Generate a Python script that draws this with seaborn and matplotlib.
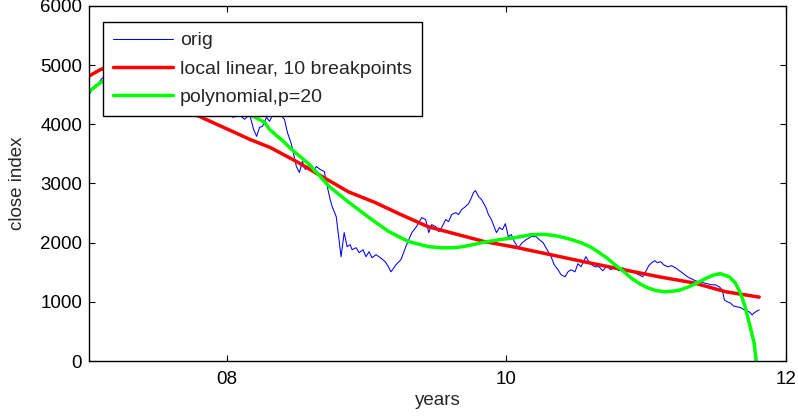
import numpy as np
import pandas as pd
import matplotlib
matplotlib.use("Agg")
import matplotlib.pyplot as plt
import seaborn as sns

# ---- data ----
orig_x = [7.018, 7.039, 7.060, 7.082, 7.103, 7.13, 7.17, 7.22, 7.27, 7.32, 7.37, 7.42, 7.47,
          7.52, 7.57, 7.62, 7.67, 7.72, 7.77, 7.82, 7.87, 7.92, 7.97, 8.01,
          8.043, 8.093, 8.128, 8.164, 8.192, 8.214, 8.235, 8.256, 8.285, 8.306, 8.342, 8.377,
          8.413, 8.434, 8.463, 8.484, 8.498, 8.520, 8.541, 8.562, 8.591, 8.619, 8.641, 8.669,
          8.698, 8.719, 8.740, 8.754, 8.783, 8.797, 8.818, 8.840, 8.861, 8.883, 8.897, 8.925,
          8.947, 8.975, 8.996, 9.018, 9.039, 9.068, 9.089, 9.117, 9.139, 9.160, 9.174, 9.196,
          9.210, 9.231, 9.246, 9.267, 9.281, 9.302, 9.324, 9.352, 9.374, 9.395, 9.423, 9.445,
          9.466, 9.495, 9.516, 9.537, 9.566, 9.587, 9.609, 9.637, 9.658, 9.680, 9.708, 9.730,
          9.744, 9.765, 9.779, 9.801, 9.822, 9.851, 9.872, 9.893, 9.915, 9.929, 9.950, 9.972,
          9.993, 10.014, 10.036, 10.057, 10.085, 10.114, 10.142, 10.178, 10.213, 10.235, 10.263,
          10.292, 10.320, 10.342, 10.370, 10.391, 10.420, 10.441, 10.463, 10.491, 10.512, 10.534,
          10.555, 10.569, 10.598, 10.633, 10.662, 10.690, 10.719, 10.747, 10.776, 10.804, 10.833,
          10.861, 10.890, 10.918, 10.947, 10.975, 10.996, 11.018, 11.039, 11.060, 11.082, 11.103,
          11.125, 11.153, 11.181, 11.210, 11.238, 11.267, 11.295, 11.324, 11.352, 11.381, 11.409,
          11.438, 11.466, 11.495, 11.523, 11.544, 11.559, 11.580, 11.601, 11.623, 11.651, 11.680,
          11.701, 11.722, 11.737, 11.758, 11.772, 11.794, 11.808]
orig_y = [4508, 4593, 4661, 4695, 4763, 4820, 4950, 5050, 4980, 5150, 5300, 5200, 5400,
          5250, 5100, 5200, 4950, 4700, 4800, 4550, 4400, 4500, 4350, 4300,
          4119, 4153, 4085, 4170, 3915, 3797, 3949, 3966, 4119, 4051, 4220, 4170,
          4085, 3864, 3661, 3441, 3288, 3186, 3373, 3237, 3322, 3203, 3288, 3237,
          3203, 2949, 2729, 2610, 2441, 2170, 1763, 2170, 1932, 1966, 1881, 1915,
          1831, 1881, 1763, 1847, 1746, 1797, 1763, 1712, 1661, 1576, 1508, 1576,
          1627, 1678, 1712, 1847, 1932, 2051, 2170, 2254, 2339, 2424, 2390, 2170,
          2305, 2271, 2186, 2254, 2390, 2356, 2475, 2508, 2475, 2559, 2610, 2661,
          2729, 2847, 2881, 2780, 2729, 2610, 2475, 2390, 2254, 2170, 2254, 2220,
          2322, 2102, 2136, 2017, 1915, 2000, 2051, 2102, 2102, 2051, 2000,
          1881, 1763, 1627, 1542, 1458, 1424, 1508, 1542, 1508, 1644, 1593,
          1695, 1763, 1644, 1593, 1593, 1525, 1610, 1542, 1593, 1525, 1576,
          1508, 1525, 1491, 1458, 1424, 1508, 1610, 1661, 1695, 1661, 1678,
          1627, 1593, 1610, 1576, 1525, 1475, 1424, 1390, 1356, 1339, 1322,
          1305, 1288, 1288, 1254, 1203, 1034, 1000, 983, 932, 915, 898,
          864, 847, 831, 780, 814, 847, 864]

linear_x = [7.018, 7.10, 7.20, 7.50, 7.77, 8.06, 8.16, 8.31, 8.50, 8.68, 8.87, 9.06, 9.25,
            9.44, 9.60, 9.84, 10.07, 10.31, 10.55, 10.76, 11.10, 11.34, 11.57, 11.808]
linear_y = [4820, 4930, 4980, 4560, 4170, 3860, 3750, 3610, 3370, 3120, 2860, 2680, 2470,
            2270, 2170, 2020, 1920, 1800, 1680, 1580, 1420, 1320, 1170, 1080]

poly_x = [7.018, 7.10, 7.30, 7.50, 7.70, 7.90, 8.128, 8.164, 8.270, 8.306, 8.413, 8.448,
          8.591, 8.733, 8.875, 9.018, 9.160, 9.302, 9.445, 9.540, 9.637, 9.730, 9.822,
          9.950, 10.064, 10.178, 10.270, 10.349, 10.440, 10.534, 10.600, 10.655, 10.720,
          10.776, 10.840, 10.890, 10.950, 11.011, 11.070, 11.132, 11.190, 11.246, 11.310,
          11.367, 11.430, 11.488, 11.530, 11.594, 11.637, 11.673, 11.708, 11.744, 11.772,
          11.786, 11.808]
poly_y = [4559, 4712, 4850, 4800, 4600, 4400, 4200, 4170, 4034, 3915, 3695, 3610,
          3322, 2949, 2678, 2424, 2186, 2017, 1932, 1912, 1915, 1950, 2000,
          2050, 2085, 2136, 2140, 2119, 2070, 2000, 1930, 1847, 1740,
          1627, 1510, 1407, 1310, 1237, 1190, 1170, 1180, 1203, 1260,
          1322, 1400, 1458, 1475, 1424, 1322, 1153, 915, 576, 305,
          17, -350]

x_ticks = [8, 10, 12]
x_tick_labels = ["08", "10", "12"]
y_ticks = [0, 1000, 2000, 3000, 4000, 5000, 6000]

labels = ["orig", "local linear, 10 breakpoints", "polynomial,p=20"]

# ---- plot ----
sns.set_style("white")
plt.rcParams["font.family"] = ["Liberation Sans", "DejaVu Sans"]

fig = plt.figure(figsize=(7.98, 4.19), dpi=100)
ax = fig.add_axes([89 / 798, 1 - 361 / 419, (786 - 89) / 798, (361 - 6) / 419])

df_o = pd.DataFrame({"x": orig_x, "y": orig_y})
df_l = pd.DataFrame({"x": linear_x, "y": linear_y})
df_p = pd.DataFrame({"x": poly_x, "y": poly_y})

sns.lineplot(data=df_o, x="x", y="y", ax=ax, color="#0000ff", linewidth=0.75,
             estimator=None, sort=False, label=labels[0])
sns.lineplot(data=df_l, x="x", y="y", ax=ax, color="#ff0000", linewidth=2.5,
             estimator=None, sort=False, label=labels[1])
sns.lineplot(data=df_p, x="x", y="y", ax=ax, color="#00ff00", linewidth=2.5,
             estimator=None, sort=False, label=labels[2])

ax.set_xlim(7.015, 12)
ax.set_ylim(0, 6000)
ax.set_xticks(x_ticks)
ax.set_xticklabels(x_tick_labels)
ax.set_yticks(y_ticks)
ax.set_xlabel("years", fontsize=13.5, labelpad=3)
ax.set_ylabel("close index", fontsize=13.5, labelpad=10)

ax.tick_params(axis="both", direction="in", length=4, width=0.8, labelsize=13.5,
               top=True, right=True, bottom=True, left=True, colors="black", pad=5)
ax.tick_params(axis="x", pad=7)
for s in ax.spines.values():
    s.set_visible(True)
    s.set_color("black")
    s.set_linewidth(1.0)

leg = ax.legend(loc="upper left", bbox_to_anchor=((103 - 89) / 697, (361 - 22) / 355),
                fontsize=14, frameon=True, fancybox=False, shadow=False,
                handlelength=3.1, handletextpad=0.35, borderpad=0.5, labelspacing=0.55,
                borderaxespad=0.0)
leg.get_frame().set_edgecolor("black")
leg.get_frame().set_linewidth(1.0)
leg.get_frame().set_alpha(1.0)

fig.savefig("out.png", dpi=100)
